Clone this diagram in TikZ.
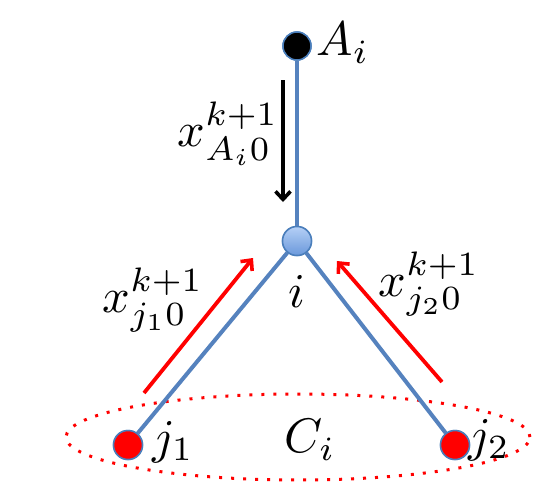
\documentclass[tikz,border=0pt]{standalone}
\usepackage{graphicx}
\usetikzlibrary{arrows.meta,shapes.geometric}
\definecolor{edgeblue}{HTML}{5582BE}
\definecolor{nodeborder}{HTML}{4A7EBB}
\definecolor{ilight}{HTML}{B5D0F7}
\definecolor{idark}{HTML}{6A98DA}
\newcommand{\biglab}[1]{\scalebox{4.85}{$#1$}}
\tikzset{
  vertex/.style={circle, draw=nodeborder, line width=1.5pt, minimum size=29pt, inner sep=0pt},
  edge/.style={draw=edgeblue, line width=4pt},
  flow/.style={line width=3.8pt, -{Straight Barb[length=8pt,width=15pt,line width=3.6pt]}},
  lab/.style={inner sep=0pt},
}
\begin{document}
\begin{tikzpicture}[x=1pt,y=-1pt]
\useasboundingbox (0,0) rectangle (558,493);
% nodes
\node[vertex, fill=black, minimum size=28pt] (A) at (297,46) {};
\node[vertex, top color=ilight, bottom color=idark] (i) at (297,241) {};
\node[vertex, fill=red] (j1) at (128,445) {};
\node[vertex, fill=red] (j2) at (455,445) {};
% cluster ellipse
\node[draw=red, ellipse, line width=3pt, dash pattern=on 3pt off 9pt, minimum width=464pt, minimum height=86pt, inner sep=0pt] (C) at (298,437) {};
% edges
\draw[edge] (A) -- (i);
\draw[edge] (i) -- (j1);
\draw[edge] (i) -- (j2);
% redraw nodes on top
\node[vertex, fill=black, minimum size=28pt] at (A) {};
\node[vertex, top color=ilight, bottom color=idark] at (i) {};
\node[vertex, fill=red] at (j1) {};
\node[vertex, fill=red] at (j2) {};
% flow arrows
\coordinate (bs) at (283,80);
\coordinate (be) at (283,202);
\coordinate (ls) at (144,393);
\coordinate (le) at (253,258);
\coordinate (rs) at (442,382);
\coordinate (re) at (337,261);
\draw[flow, black] (bs) -- (be);
\draw[flow, red] (ls) -- (le);
\draw[flow, red] (rs) -- (re);
% labels
\node[lab] (tA) at (343,43) {\biglab{A_i}};
\node[lab] (tAx) at (228,134) {\biglab{x^{k+1}_{A_i0}}};
\node[lab] (ti) at (297,292) {\biglab{i}};
\node[lab] (tj1x) at (153,300) {\biglab{x^{k+1}_{j_10}}};
\node[lab] (tj2x) at (429,284) {\biglab{x^{k+1}_{j_20}}};
\node[lab] (tj1) at (173,442) {\biglab{j_1}};
\node[lab] (tC) at (310,440) {\biglab{C_i}};
\node[lab] (tj2) at (489,440) {\biglab{j_2}};
\end{tikzpicture}
\end{document}
